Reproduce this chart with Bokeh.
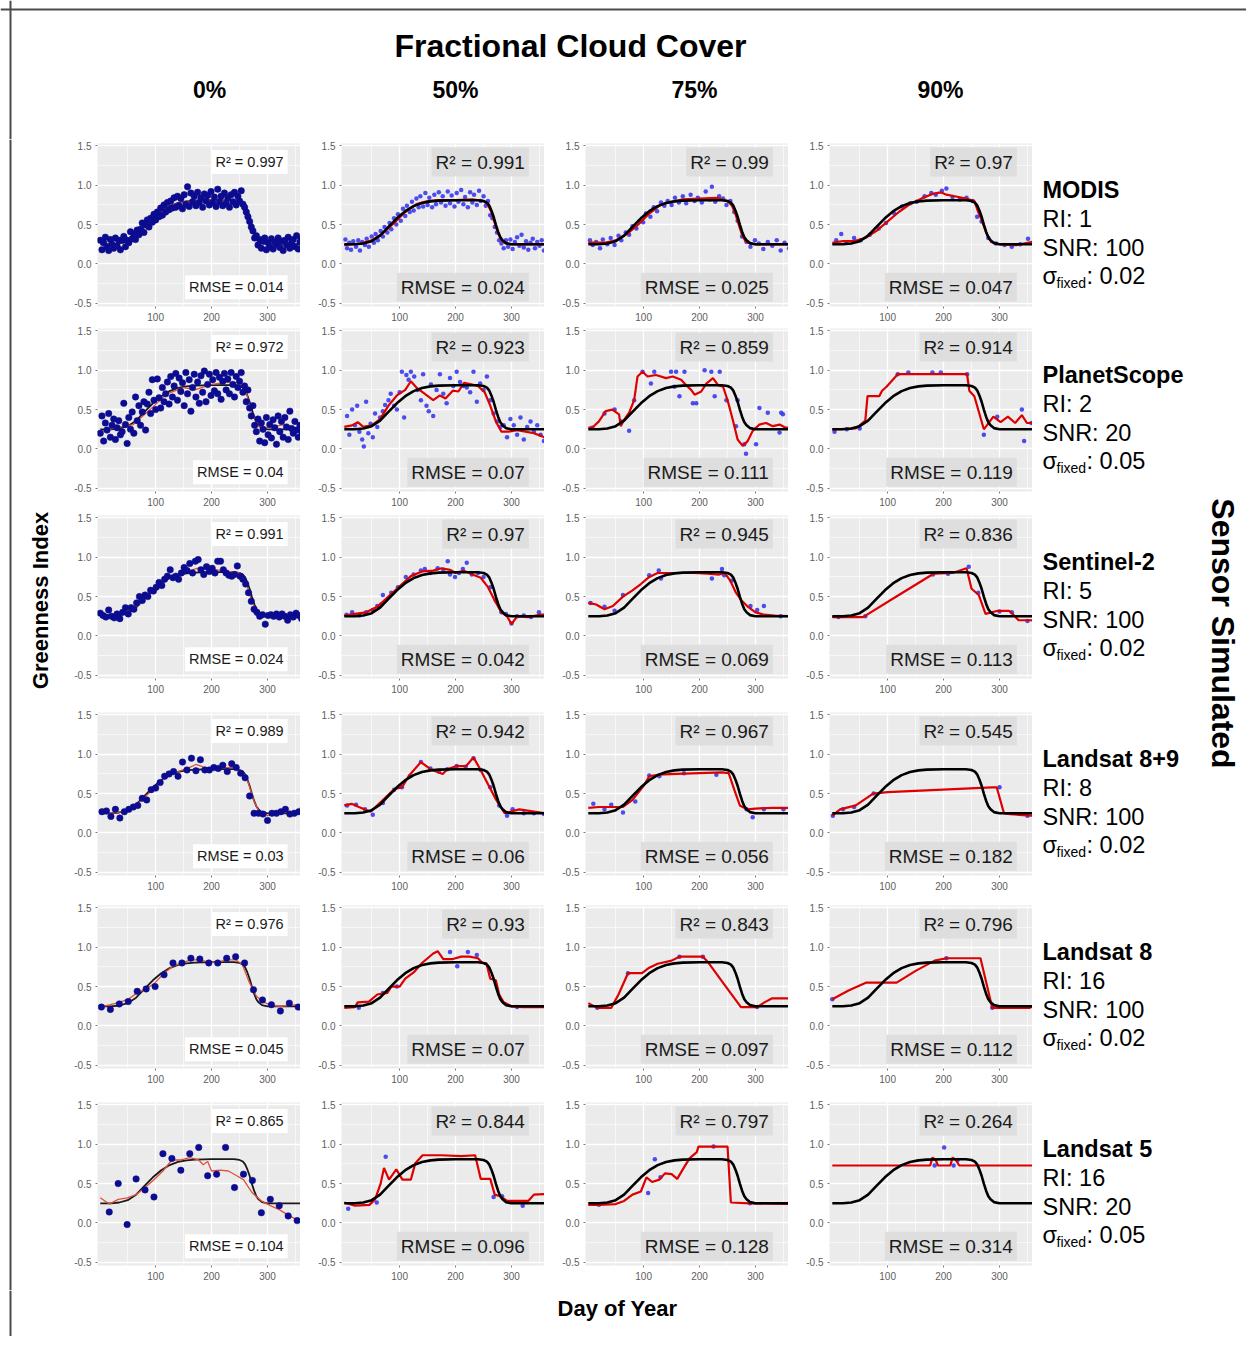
from bokeh.plotting import figure
from bokeh.layouts import row, column
from bokeh.models import Range1d, FixedTicker, NumeralTickFormatter, Label, Span
from bokeh.core.properties import value
from bokeh.embed import file_html
from bokeh.resources import INLINE
import math

FONT = "Liberation Sans"

# ---------------- text data ----------------
title_text = "Fractional Cloud Cover"
col_headers = ["0%", "50%", "75%", "90%"]
sensor_names = ["MODIS", "PlanetScope", "Sentinel-2", "Landsat 8+9", "Landsat 8", "Landsat 5"]
sensor_ri = ["1", "2", "5", "8", "16", "16"]
sensor_snr = ["100", "20", "100", "100", "100", "20"]
sensor_sigma = ["0.02", "0.05", "0.02", "0.02", "0.02", "0.05"]
r2_values = [["0.997", "0.991", "0.99", "0.97"],
             ["0.972", "0.923", "0.859", "0.914"],
             ["0.991", "0.97", "0.945", "0.836"],
             ["0.989", "0.942", "0.967", "0.545"],
             ["0.976", "0.93", "0.843", "0.796"],
             ["0.865", "0.844", "0.797", "0.264"]]
rmse_values = [["0.014", "0.024", "0.025", "0.047"],
               ["0.04", "0.07", "0.111", "0.119"],
               ["0.024", "0.042", "0.069", "0.113"],
               ["0.03", "0.06", "0.056", "0.182"],
               ["0.045", "0.07", "0.097", "0.112"],
               ["0.104", "0.096", "0.128", "0.314"]]
x_ticks = [100, 200, 300]
x_minor = [50, 150, 250, 350]
y_ticks = [-0.5, 0.0, 0.5, 1.0, 1.5]
y_minor = [-0.25, 0.25, 0.75, 1.25]

# ---------------- true greenness curve (black) ----------------
truth_doy = [1, 20, 35, 50, 65, 80, 95, 110, 125, 140, 155, 170, 200, 240, 250, 256, 260, 264, 268,
             272, 276, 280, 284, 290, 300, 330, 365]
truth_gi = [0.25, 0.25, 0.26, 0.29, 0.36, 0.47, 0.58, 0.67, 0.735, 0.775, 0.795, 0.805, 0.81, 0.81,
            0.80, 0.78, 0.745, 0.68, 0.60, 0.50, 0.41, 0.34, 0.30, 0.265, 0.25, 0.25, 0.25]

# ---------------- observations and fits ----------------
doy_every3 = [1, 4, 7, 10, 13, 16, 19, 22, 25, 28, 31, 34, 37, 40, 43, 46, 49, 52, 55, 58, 61, 64, 67,
              70, 73, 76, 79, 82, 85, 88, 91, 94, 97, 100, 103, 106, 109, 112, 115, 118, 121, 124, 127,
              130, 133, 136, 139, 142, 145, 148, 151, 154, 157, 160, 163, 166, 169, 172, 175, 178, 181,
              184, 187, 190, 193, 196, 199, 202, 205, 208, 211, 214, 217, 220, 223, 226, 229, 232, 235,
              238, 241, 244, 247, 250, 253, 256, 259, 262, 265, 268, 271, 274, 277, 280, 283, 286, 289,
              292, 295, 298, 301, 304, 307, 310, 313, 316, 319, 322, 325, 328, 331, 334, 337, 340, 343,
              346, 349, 352, 355, 358, 361, 364]

# MODIS
m0_gi = [0.30, 0.18, 0.27, 0.34, 0.22, 0.17, 0.31, 0.25, 0.20, 0.33,
         0.23, 0.30, 0.18, 0.30, 0.35, 0.22, 0.30, 0.27, 0.41, 0.32,
         0.38, 0.31, 0.43, 0.37, 0.44, 0.52, 0.40, 0.50, 0.56, 0.47,
         0.58, 0.53, 0.63, 0.56, 0.66, 0.60, 0.71, 0.62, 0.75, 0.66,
         0.78, 0.69, 0.80, 0.71, 0.84, 0.72, 0.86, 0.74, 0.83, 0.70,
         0.88, 0.76, 0.98, 0.73, 0.90, 0.79, 0.86, 0.74, 0.91, 0.78,
         0.84, 0.72, 0.89, 0.80, 0.87, 0.75, 0.92, 0.78, 0.85, 0.73,
         0.95, 0.79, 0.86, 0.74, 0.90, 0.77, 0.84, 0.72, 0.88, 0.79,
         0.91, 0.75, 0.86, 0.80, 0.93, 0.76, 0.72, 0.66, 0.60, 0.54,
         0.47, 0.42, 0.33, 0.36, 0.24, 0.31, 0.20, 0.29, 0.33, 0.18,
         0.27, 0.22, 0.32, 0.19, 0.28, 0.25, 0.33, 0.21, 0.29, 0.17,
         0.30, 0.24, 0.34, 0.20, 0.27, 0.31, 0.22, 0.36, 0.19, 0.28,
         0.32, 0.23]
m0_fit_doy = [1, 30, 50, 70, 90, 110, 130, 150, 170, 200, 230, 250, 258, 264, 270, 276, 282, 290, 300, 330, 365]
m0_fit_gi = [0.25, 0.26, 0.29, 0.38, 0.52, 0.66, 0.75, 0.79, 0.81, 0.81, 0.81, 0.80, 0.76, 0.67, 0.53, 0.40,
             0.30, 0.26, 0.25, 0.25, 0.26]

m50_doy = [3, 6, 10, 13, 17, 22, 26, 29, 33, 38, 41, 45, 50, 54, 57, 61, 66, 70, 73, 78, 82, 85, 90, 94, 97,
           102, 106, 110, 113, 118, 122, 125, 130, 134, 137, 142, 146, 150, 153, 158, 162, 165, 170, 174,
           177, 182, 186, 190, 193, 198, 202, 205, 210, 214, 217, 222, 226, 230, 233, 238, 242, 245, 250,
           254, 258, 262, 266, 270, 274, 278, 282, 286, 290, 294, 298, 302, 306, 310, 314, 318, 322, 326,
           330, 334, 338, 342, 346, 350, 354, 358, 362]
m50_gi = [0.31, 0.20, 0.27, 0.18, 0.29, 0.22, 0.30, 0.17, 0.28, 0.24,
          0.32, 0.22, 0.35, 0.27, 0.38, 0.30, 0.42, 0.35, 0.47, 0.40,
          0.52, 0.44, 0.58, 0.50, 0.63, 0.55, 0.70, 0.61, 0.74, 0.66,
          0.79, 0.68, 0.83, 0.72, 0.86, 0.73, 0.90, 0.75, 0.84, 0.72,
          0.88, 0.76, 0.91, 0.78, 0.86, 0.74, 0.92, 0.77, 0.87, 0.73,
          0.90, 0.79, 0.94, 0.76, 0.85, 0.72, 0.91, 0.78, 0.88, 0.75,
          0.93, 0.80, 0.86, 0.74, 0.80, 0.62, 0.58, 0.47, 0.40, 0.30,
          0.26, 0.20, 0.30, 0.22, 0.31, 0.19, 0.28, 0.34, 0.23, 0.37,
          0.21, 0.29, 0.18, 0.27, 0.32, 0.20, 0.28, 0.23, 0.30, 0.17,
          0.26]
m50_fit_doy = [1, 30, 50, 70, 90, 110, 130, 150, 170, 200, 230, 250, 258, 264, 270, 276, 282, 290, 300, 330, 365]
m50_fit_gi = [0.24, 0.26, 0.30, 0.39, 0.52, 0.66, 0.76, 0.80, 0.81, 0.81, 0.82, 0.80, 0.75, 0.66, 0.52, 0.39,
              0.30, 0.26, 0.25, 0.25, 0.25]

m75_doy = [4, 9, 15, 22, 27, 35, 41, 48, 55, 60, 68, 74, 80, 87, 93, 99, 104, 112, 118, 124, 131, 137, 143,
           150, 156, 163, 170, 176, 184, 191, 197, 204, 211, 218, 222, 228, 235, 242, 248, 255, 262, 268,
           276, 284, 291, 299, 306, 314, 322, 330, 338, 345, 352, 360]
m75_gi = [0.30, 0.24, 0.28, 0.20, 0.31, 0.25, 0.33, 0.24, 0.36, 0.30,
          0.40, 0.37, 0.48, 0.45, 0.55, 0.53, 0.64, 0.60, 0.72, 0.67,
          0.78, 0.74, 0.80, 0.75, 0.84, 0.78, 0.86, 0.77, 0.88, 0.80,
          0.84, 0.78, 0.92, 0.82, 0.98, 0.79, 0.86, 0.83, 0.75, 0.80,
          0.66, 0.55, 0.35, 0.28, 0.22, 0.30, 0.26, 0.19, 0.28, 0.23,
          0.30, 0.17, 0.27, 0.20]
m75_fit_doy = [1, 30, 50, 70, 90, 110, 130, 150, 170, 200, 230, 250, 258, 264, 270, 276, 282, 290, 300, 330, 365]
m75_fit_gi = [0.27, 0.27, 0.30, 0.38, 0.50, 0.64, 0.75, 0.79, 0.82, 0.83, 0.84, 0.80, 0.74, 0.64, 0.50, 0.37,
              0.29, 0.26, 0.25, 0.25, 0.25]

m90_doy = [8, 17, 26, 40, 52, 68, 84, 97, 112, 126, 141, 152, 166, 178, 186, 197, 205, 216, 229, 241, 252,
           260, 268, 280, 294, 309, 322, 337, 351, 360]
m90_gi = [0.30, 0.38, 0.27, 0.33, 0.30, 0.37, 0.45, 0.52, 0.64, 0.73, 0.77, 0.79, 0.86, 0.90, 0.88, 0.93,
          0.96, 0.85, 0.82, 0.84, 0.80, 0.60, 0.54, 0.33, 0.26, 0.24, 0.22, 0.25, 0.32, 0.27]
m90_fit_doy = [1, 20, 40, 60, 80, 100, 120, 140, 160, 180, 195, 205, 220, 240, 255, 262, 268, 276, 285, 300,
               330, 350, 365]
m90_fit_gi = [0.27, 0.29, 0.29, 0.33, 0.42, 0.54, 0.66, 0.76, 0.83, 0.89, 0.91, 0.88, 0.86, 0.83, 0.80, 0.66,
              0.56, 0.40, 0.28, 0.25, 0.24, 0.27, 0.29]

# PlanetScope
p0_gi = [0.20, 0.42, 0.10, 0.33, 0.24, 0.45, 0.15, 0.30, 0.38, 0.12,
         0.27, 0.36, 0.18, 0.22, 0.58, 0.31, 0.07, 0.40, 0.25, 0.47,
         0.20, 0.66, 0.36, 0.55, 0.30, 0.47, 0.60, 0.24, 0.57, 0.72,
         0.45, 0.88, 0.62, 0.50, 0.89, 0.65, 0.52, 0.78, 0.60, 0.70,
         0.85, 0.57, 0.92, 0.66, 0.80, 0.96, 0.62, 0.90, 0.73, 0.84,
         0.55, 0.97, 0.70, 0.88, 0.48, 0.78, 0.95, 0.66, 0.85, 0.58,
         0.93, 0.72, 0.99, 0.60, 0.82, 0.95, 0.68, 0.88, 0.74, 0.97,
         0.70, 0.91, 0.63, 0.86, 0.96, 0.75, 0.89, 0.70, 0.97, 0.82,
         0.66, 0.92, 0.78, 0.86, 0.97, 0.72, 0.80, 0.60, 0.75, 0.52,
         0.42, 0.55, 0.30, 0.22, 0.38, 0.10, 0.33, 0.25, 0.08, 0.40,
         0.18, 0.31, 0.14, 0.37, 0.27, 0.06, 0.42, 0.22, 0.35, 0.15,
         0.40, 0.28, 0.12, 0.48, 0.26, 0.20, 0.35, 0.24, 0.15, 0.30,
         0.22, -0.01]
p0_fit_doy = [1, 30, 60, 90, 120, 150, 170, 200, 230, 250, 262, 272, 285, 300, 330, 350, 365]
p0_fit_gi = [0.22, 0.27, 0.31, 0.50, 0.70, 0.78, 0.75, 0.82, 0.85, 0.84, 0.72, 0.45, 0.28, 0.27, 0.31, 0.27, 0.20]

p50_doy = [6, 10, 15, 20, 24, 28, 33, 36, 40, 44, 48, 52, 56, 60, 65, 70, 74, 80, 84, 90, 95, 100, 104, 108,
           112, 116, 120, 126, 132, 138, 142, 148, 152, 156, 160, 166, 172, 178, 184, 190, 196, 202, 208,
           214, 220, 226, 232, 238, 244, 250, 256, 262, 268, 274, 280, 286, 292, 298, 304, 310, 316, 322,
           328, 334, 340, 346, 352, 358, 363]
p50_gi = [0.42, 0.18, 0.50, 0.30, 0.55, 0.22, 0.12, 0.03, 0.60, 0.20,
          0.32, 0.15, 0.45, 0.28, 0.40, 0.48, 0.56, 0.62, 0.70, 0.55,
          0.50, 0.72, 0.98, 0.40, 0.94, 0.88, 0.98, 0.92, 0.75, 0.62,
          0.95, 0.55, 0.48, 0.82, 0.42, 0.75, 0.95, 0.70, 0.58, 0.90,
          0.80, 0.98, 0.85, 0.80, 0.78, 0.72, 0.98, 0.60, 0.83, 0.75,
          0.92, 0.62, 0.45, 0.35, 0.28, 0.30, 0.15, 0.38, 0.30, 0.18,
          0.40, 0.12, 0.28, 0.35, 0.22, 0.30, 0.18, 0.10, 0.20]
p50_fit_doy = [1, 15, 25, 35, 50, 65, 80, 95, 110, 120, 130, 145, 160, 172, 182, 195, 205, 215, 228, 240,
               252, 262, 272, 282, 295, 310, 325, 340, 355, 365]
p50_fit_gi = [0.28, 0.30, 0.34, 0.28, 0.30, 0.38, 0.55, 0.68, 0.75, 0.86, 0.78, 0.70, 0.62, 0.68, 0.64, 0.74,
              0.73, 0.84, 0.82, 0.80, 0.72, 0.55, 0.35, 0.22, 0.22, 0.24, 0.22, 0.20, 0.16, 0.12]

p75_doy = [8, 30, 48, 60, 74, 83, 98, 113, 119, 149, 155, 158, 164, 173, 188, 194, 209, 221, 227, 236, 248,
           265, 268, 280, 283, 301, 307, 322, 343, 346, 349]
p75_gi = [0.27, 0.45, 0.50, 0.35, 0.23, 0.62, 0.98, 0.83, 0.98, 0.98, 0.79, 0.98, 0.67, 0.98, 0.58, 0.58,
          1.00, 0.98, 0.67, 0.98, 0.62, 0.29, 0.62, 0.06, -0.06, 0.06, 0.52, 0.46, 0.21, 0.46, 0.44]
p75_fit_doy = [1, 8, 20, 32, 44, 56, 59, 65, 74, 83, 89, 98, 107, 122, 140, 152, 167, 176, 185, 191, 203, 212,
               224, 233, 242, 250, 259, 268, 277, 286, 295, 307, 319, 331, 343, 354, 365]
p75_fit_gi = [0.27, 0.27, 0.35, 0.48, 0.50, 0.44, 0.29, 0.37, 0.46, 0.62, 0.92, 0.98, 0.92, 0.94, 0.90, 0.92,
              0.88, 0.81, 0.75, 0.69, 0.73, 0.83, 0.90, 0.81, 0.79, 0.62, 0.38, 0.12, 0.04, 0.10, 0.23, 0.31,
              0.33, 0.29, 0.31, 0.27, 0.27]

p90_doy = [5, 27, 50, 118, 137, 180, 195, 242, 272, 296, 340, 344, 357]
p90_gi = [0.22, 0.25, 0.26, 0.95, 0.97, 0.97, 0.97, 0.95, 0.18, 0.41, 0.50, 0.10, 0.33]
p90_fit_doy = [1, 43, 50, 60, 64, 85, 90, 98, 118, 237, 242, 246, 255, 272, 289, 302, 315, 328, 340, 349, 365]
p90_fit_gi = [0.25, 0.26, 0.30, 0.36, 0.67, 0.67, 0.74, 0.79, 0.95, 0.95, 0.95, 0.74, 0.67, 0.25, 0.41, 0.34,
              0.41, 0.33, 0.43, 0.33, 0.33]

# Sentinel-2
s0_doy = [1, 6, 11, 16, 21, 26, 31, 36, 41, 46, 51, 56, 61, 66, 71, 76, 81, 86, 91, 96, 101, 106, 111, 116,
          121, 126, 131, 136, 141, 146, 151, 156, 161, 166, 171, 176, 181, 186, 191, 196, 201, 206, 211,
          216, 221, 226, 231, 236, 241, 246, 251, 256, 261, 266, 271, 276, 281, 286, 291, 296, 301, 306,
          311, 316, 321, 326, 331, 336, 341, 346, 351, 356, 361]
s0_gi = [0.29, 0.26, 0.24, 0.33, 0.25, 0.23, 0.28, 0.22, 0.30, 0.36,
         0.28, 0.36, 0.34, 0.42, 0.50, 0.45, 0.52, 0.50, 0.58, 0.57,
         0.62, 0.68, 0.64, 0.72, 0.76, 0.84, 0.74, 0.76, 0.72, 0.80,
         0.87, 0.83, 0.92, 0.80, 0.95, 0.97, 0.84, 0.78, 0.88, 0.82,
         0.86, 0.80, 0.95, 0.95, 0.84, 0.80, 0.77, 0.76, 0.78, 0.89,
         0.76, 0.72, 0.66, 0.55, 0.44, 0.34, 0.30, 0.25, 0.27, 0.15,
         0.26, 0.27, 0.25, 0.28, 0.24, 0.28, 0.25, 0.20, 0.27, 0.24,
         0.29, 0.26, 0.22]
s0_fit_doy = [1, 30, 60, 90, 120, 150, 175, 200, 230, 250, 260, 270, 280, 295, 330, 365]
s0_fit_gi = [0.27, 0.27, 0.34, 0.53, 0.73, 0.81, 0.86, 0.85, 0.82, 0.80, 0.72, 0.48, 0.32, 0.25, 0.26, 0.25]

s50_doy = [5, 15, 28, 40, 52, 60, 67, 70, 85, 97, 111, 125, 138, 145, 155, 168, 178, 186, 190, 199, 206, 213,
           220, 229, 240, 250, 262, 272, 282, 290, 300, 310, 322, 335, 349, 360]
s50_gi = [0.27, 0.30, 0.26, 0.30, 0.33, 0.38, 0.40, 0.52, 0.55, 0.62, 0.75, 0.78, 0.83, 0.85, 0.80, 0.86,
          0.84, 0.95, 0.78, 0.75, 0.80, 0.85, 0.93, 0.78, 0.80, 0.75, 0.62, 0.45, 0.30, 0.28, 0.16, 0.25,
          0.26, 0.24, 0.30, 0.26]
s50_fit_doy = [1, 20, 40, 60, 80, 100, 120, 140, 160, 175, 190, 200, 215, 230, 245, 258, 270, 282, 292, 300,
               310, 330, 350, 365]
s50_fit_gi = [0.26, 0.28, 0.30, 0.37, 0.50, 0.63, 0.76, 0.82, 0.83, 0.86, 0.84, 0.80, 0.83, 0.78, 0.74, 0.62,
              0.45, 0.30, 0.25, 0.15, 0.25, 0.24, 0.27, 0.27]

s75_doy = [5, 30, 48, 63, 110, 127, 131, 222, 240, 244, 257, 291, 303, 315, 345]
s75_gi = [0.42, 0.37, 0.32, 0.52, 0.77, 0.83, 0.73, 0.73, 0.85, 0.77, 0.70, 0.38, 0.33, 0.38, 0.25]
s75_fit_doy = [1, 15, 30, 45, 63, 80, 95, 110, 125, 140, 160, 190, 215, 235, 245, 255, 265, 275, 285, 300,
               315, 335, 365]
s75_fit_gi = [0.42, 0.40, 0.34, 0.38, 0.50, 0.58, 0.66, 0.75, 0.80, 0.80, 0.80, 0.80, 0.79, 0.78, 0.80, 0.70,
              0.55, 0.45, 0.38, 0.30, 0.27, 0.26, 0.25]

s90_doy = [12, 60, 181, 208, 245, 262, 300, 322, 350]
s90_gi = [0.24, 0.25, 0.78, 0.79, 0.88, 0.55, 0.31, 0.30, 0.19]
s90_fit_doy = [1, 56, 120, 182, 216, 241, 250, 263, 275, 297, 317, 325, 334, 355, 365]
s90_fit_gi = [0.24, 0.24, 0.52, 0.79, 0.80, 0.86, 0.60, 0.52, 0.28, 0.32, 0.32, 0.27, 0.20, 0.20, 0.19]

# Landsat 8+9
l89_0_doy = [4, 12, 20, 28, 36, 44, 52, 60, 68, 76, 84, 92, 100, 108, 116, 124, 132, 140, 148, 156, 164, 172,
             180, 188, 196, 204, 212, 220, 228, 236, 244, 252, 260, 268, 276, 284, 292, 300, 308, 316, 324,
             332, 340, 348, 356, 364]
l89_0_gi = [0.27, 0.28, 0.21, 0.30, 0.19, 0.27, 0.30, 0.33, 0.35, 0.44, 0.42, 0.55, 0.57, 0.64, 0.72, 0.75,
            0.78, 0.72, 0.90, 0.80, 0.95, 0.79, 0.93, 0.80, 0.80, 0.83, 0.82, 0.86, 0.78, 0.88, 0.83, 0.76,
            0.70, 0.47, 0.25, 0.25, 0.24, 0.16, 0.25, 0.25, 0.27, 0.30, 0.24, 0.25, 0.27, 0.32]
l89_0_fit_doy = [1, 20, 40, 60, 80, 100, 120, 140, 160, 172, 185, 200, 220, 240, 255, 265, 275, 285, 300, 330, 365]
l89_0_fit_gi = [0.26, 0.25, 0.27, 0.32, 0.45, 0.59, 0.72, 0.78, 0.83, 0.87, 0.84, 0.81, 0.83, 0.83, 0.78, 0.65,
                0.42, 0.27, 0.22, 0.26, 0.29]

l89_50_doy = [6, 22, 38, 52, 70, 90, 104, 118, 138, 155, 170, 185, 202, 218, 232, 245, 262, 278, 292, 302, 322,
              340, 358]
l89_50_gi = [0.35, 0.36, 0.30, 0.23, 0.38, 0.55, 0.58, 0.72, 0.90, 0.82, 0.78, 0.81, 0.85, 0.84, 0.95, 0.80,
             0.58, 0.35, 0.22, 0.30, 0.25, 0.25, 0.24]
l89_50_fit_doy = [1, 14, 27, 48, 91, 104, 117, 138, 155, 177, 185, 202, 219, 232, 244, 258, 271, 288, 314, 361, 365]
l89_50_fit_gi = [0.35, 0.37, 0.33, 0.27, 0.56, 0.58, 0.73, 0.90, 0.81, 0.75, 0.81, 0.85, 0.85, 0.96, 0.81, 0.62,
                 0.44, 0.25, 0.30, 0.25, 0.25]

l89_75_doy = [10, 30, 42, 63, 85, 110, 128, 172, 230, 284, 295, 315, 350]
l89_75_gi = [0.37, 0.30, 0.36, 0.26, 0.40, 0.73, 0.72, 0.76, 0.74, 0.30, 0.20, 0.30, 0.30]
l89_75_fit_doy = [1, 20, 45, 63, 80, 100, 110, 125, 160, 200, 240, 252, 262, 272, 285, 300, 330, 365]
l89_75_fit_gi = [0.32, 0.33, 0.33, 0.33, 0.42, 0.60, 0.72, 0.74, 0.75, 0.76, 0.77, 0.76, 0.55, 0.35, 0.30, 0.31,
                 0.32, 0.32]

l89_90_doy = [2, 20, 40, 75, 300, 350]
l89_90_gi = [0.22, 0.30, 0.33, 0.50, 0.58, 0.22]
l89_90_fit_doy = [1, 15, 43, 74, 100, 287, 295, 308, 319, 355, 365]
l89_90_fit_gi = [0.22, 0.30, 0.35, 0.50, 0.52, 0.58, 0.58, 0.25, 0.24, 0.22, 0.22]

# Landsat 8
l8_0_doy = [3, 19, 35, 51, 67, 83, 99, 115, 131, 147, 163, 179, 195, 211, 227, 243, 259, 275, 291, 307, 323,
            339, 355]
l8_0_gi = [0.24, 0.21, 0.28, 0.31, 0.44, 0.47, 0.50, 0.65, 0.80, 0.80, 0.86, 0.85, 0.80, 0.80, 0.86, 0.88,
           0.80, 0.46, 0.33, 0.27, 0.19, 0.29, 0.24]
l8_0_fit_doy = [1, 19, 35, 51, 67, 83, 99, 115, 131, 147, 163, 179, 195, 211, 227, 243, 255, 267, 280, 291, 307,
                323, 339, 355, 365]
l8_0_fit_gi = [0.24, 0.27, 0.30, 0.34, 0.42, 0.47, 0.55, 0.67, 0.76, 0.80, 0.84, 0.84, 0.81, 0.81, 0.84, 0.84,
               0.78, 0.56, 0.38, 0.31, 0.26, 0.25, 0.26, 0.27, 0.27]

l8_50_doy = [27, 70, 95, 190, 203, 222, 238, 310]
l8_50_gi = [0.23, 0.42, 0.50, 0.94, 0.76, 0.94, 0.90, 0.24]
l8_50_fit_doy = [1, 20, 25, 45, 60, 78, 85, 100, 110, 125, 140, 160, 168, 178, 195, 210, 225, 240, 248, 255, 262,
                 272, 278, 286, 300, 320, 365]
l8_50_fit_gi = [0.23, 0.24, 0.30, 0.31, 0.40, 0.42, 0.50, 0.50, 0.60, 0.68, 0.80, 0.92, 0.95, 0.85, 0.85, 0.88,
                0.88, 0.86, 0.80, 0.80, 0.60, 0.58, 0.40, 0.30, 0.25, 0.24, 0.24]

l8_75_doy = [17, 72, 164, 206, 303]
l8_75_gi = [0.23, 0.67, 0.88, 0.88, 0.24]
l8_75_fit_doy = [1, 17, 42, 55, 72, 97, 110, 125, 150, 164, 206, 214, 245, 274, 303, 316, 329, 365]
l8_75_fit_gi = [0.29, 0.23, 0.23, 0.40, 0.67, 0.67, 0.74, 0.79, 0.83, 0.88, 0.88, 0.82, 0.52, 0.24, 0.24, 0.30,
                0.35, 0.35]

l8_90_doy = [1, 205, 287]
l8_90_gi = [0.34, 0.86, 0.23]
l8_90_fit_doy = [1, 30, 61, 78, 116, 150, 184, 205, 257, 266, 287, 354, 365]
l8_90_fit_gi = [0.34, 0.45, 0.55, 0.55, 0.55, 0.70, 0.83, 0.86, 0.86, 0.86, 0.23, 0.23, 0.27]

# Landsat 5
l5_0_doy = [17, 33, 49, 65, 81, 97, 113, 129, 145, 161, 177, 193, 209, 225, 241, 257, 273, 289, 305, 321, 337, 353]
l5_0_gi = [0.14, 0.50, -0.02, 0.56, 0.42, 0.33, 0.88, 0.82, 0.67, 0.88, 0.96, 0.60, 0.62, 0.96, 0.45, 0.62,
           0.54, 0.13, 0.30, 0.22, 0.09, 0.03]
l5_0_fit_doy = [1, 17, 33, 49, 65, 81, 97, 113, 129, 145, 161, 177, 185, 193, 200, 215, 230, 245, 257, 273, 289,
                305, 321, 337, 353, 365]
l5_0_fit_gi = [0.32, 0.24, 0.30, 0.32, 0.36, 0.45, 0.55, 0.66, 0.80, 0.80, 0.83, 0.80, 0.74, 0.78, 0.66, 0.67,
               0.66, 0.60, 0.55, 0.38, 0.28, 0.22, 0.17, 0.10, 0.04, 0.06]

l5_50_doy = [8, 59, 75, 268, 283, 320]
l5_50_gi = [0.18, 0.26, 0.84, 0.33, 0.34, 0.22]
l5_50_fit_doy = [1, 20, 46, 56, 66, 72, 81, 94, 105, 120, 128, 141, 175, 210, 235, 245, 262, 270, 280, 292, 330,
                 340, 365]
l5_50_fit_gi = [0.26, 0.22, 0.23, 0.30, 0.50, 0.70, 0.55, 0.68, 0.55, 0.55, 0.76, 0.86, 0.86, 0.85, 0.86, 0.56,
                0.56, 0.36, 0.34, 0.28, 0.28, 0.36, 0.37]

l5_75_doy = [20, 108, 120, 130, 225, 290]
l5_75_gi = [0.23, 0.38, 0.81, 0.58, 0.97, 0.25]
l5_75_fit_doy = [1, 20, 50, 65, 80, 95, 105, 115, 128, 138, 150, 160, 170, 182, 195, 198, 225, 250, 256, 290, 365]
l5_75_fit_gi = [0.23, 0.23, 0.24, 0.28, 0.36, 0.40, 0.58, 0.52, 0.55, 0.63, 0.62, 0.56, 0.68, 0.82, 0.90, 0.97,
                0.97, 0.97, 0.26, 0.25, 0.24]

l5_90_doy = [184, 201, 218, 225]
l5_90_gi = [0.73, 0.96, 0.73, 0.80]
l5_90_fit_doy = [1, 150, 176, 180, 186, 190, 212, 216, 222, 228, 365]
l5_90_fit_gi = [0.73, 0.73, 0.73, 0.83, 0.80, 0.73, 0.73, 0.83, 0.80, 0.73, 0.73]

panel_table = [
    [(doy_every3, m0_gi, m0_fit_doy, m0_fit_gi), (m50_doy, m50_gi, m50_fit_doy, m50_fit_gi),
     (m75_doy, m75_gi, m75_fit_doy, m75_fit_gi), (m90_doy, m90_gi, m90_fit_doy, m90_fit_gi)],
    [(doy_every3, p0_gi, p0_fit_doy, p0_fit_gi), (p50_doy, p50_gi, p50_fit_doy, p50_fit_gi),
     (p75_doy, p75_gi, p75_fit_doy, p75_fit_gi), (p90_doy, p90_gi, p90_fit_doy, p90_fit_gi)],
    [(s0_doy, s0_gi, s0_fit_doy, s0_fit_gi), (s50_doy, s50_gi, s50_fit_doy, s50_fit_gi),
     (s75_doy, s75_gi, s75_fit_doy, s75_fit_gi), (s90_doy, s90_gi, s90_fit_doy, s90_fit_gi)],
    [(l89_0_doy, l89_0_gi, l89_0_fit_doy, l89_0_fit_gi), (l89_50_doy, l89_50_gi, l89_50_fit_doy, l89_50_fit_gi),
     (l89_75_doy, l89_75_gi, l89_75_fit_doy, l89_75_fit_gi), (l89_90_doy, l89_90_gi, l89_90_fit_doy, l89_90_fit_gi)],
    [(l8_0_doy, l8_0_gi, l8_0_fit_doy, l8_0_fit_gi), (l8_50_doy, l8_50_gi, l8_50_fit_doy, l8_50_fit_gi),
     (l8_75_doy, l8_75_gi, l8_75_fit_doy, l8_75_fit_gi), (l8_90_doy, l8_90_gi, l8_90_fit_doy, l8_90_fit_gi)],
    [(l5_0_doy, l5_0_gi, l5_0_fit_doy, l5_0_fit_gi), (l5_50_doy, l5_50_gi, l5_50_fit_doy, l5_50_fit_gi),
     (l5_75_doy, l5_75_gi, l5_75_fit_doy, l5_75_fit_gi), (l5_90_doy, l5_90_gi, l5_90_fit_doy, l5_90_fit_gi)],
]

# ---------------- layout constants ----------------
ROW_H = [185, 187, 197, 193, 197, 192]
PAD_TOP = 4
FRAME_H = 163
PANEL_W = 244
PAD_LEFT = 41
LEFT_W = 56
RIGHT_W = 214
TOTAL_W = LEFT_W + 4 * PANEL_W + RIGHT_W
HEADER_H = 139
BOTTOM_H = 46
MID_H = sum(ROW_H)
BORDER = "#4a4a4a"


def make_panel(r, c):
    px, py, fx, fy = panel_table[r][c]
    h = ROW_H[r]
    p = figure(width=PANEL_W, height=h, x_range=Range1d(-4, 359), y_range=Range1d(-0.54, 1.53),
               output_backend="svg", toolbar_location=None,
               min_border_left=PAD_LEFT, min_border_right=0, min_border_top=PAD_TOP,
               min_border_bottom=h - PAD_TOP - FRAME_H)
    p.background_fill_color = "#EBEBEB"
    p.border_fill_color = "white"
    p.outline_line_color = None
    p.xaxis.ticker = FixedTicker(ticks=x_ticks, minor_ticks=x_minor)
    p.yaxis.ticker = FixedTicker(ticks=y_ticks, minor_ticks=y_minor)
    p.yaxis.formatter = NumeralTickFormatter(format="0.0")
    for ax in p.axis:
        ax.axis_line_color = None
        ax.major_tick_line_color = "#7a7a7a"
        ax.major_tick_out = 2
        ax.major_tick_in = 0
        ax.minor_tick_line_color = None
        ax.major_label_text_font = FONT
        ax.major_label_text_font_size = "10px"
        ax.major_label_text_color = "#5e5e5e"
        ax.major_label_standoff = 2
    p.grid.grid_line_color = "white"
    p.grid.grid_line_width = 1.3
    p.grid.minor_grid_line_color = "white"
    p.grid.minor_grid_line_width = 0.6

    if c == 0:
        p.line(truth_doy, truth_gi, line_color="#1a1a1a", line_width=1.8)
        p.line(fx, fy, line_color="#e0503a", line_width=1.3)
        p.scatter(px, py, size=6.5, fill_color="#0c0c90", line_color="#0c0c90", line_width=0.5)
        fsize = "14.5px"
        box = "white"
        lx = 336
    else:
        p.scatter(px, py, size=4.5, fill_color="#3a3aee", line_color=None, fill_alpha=0.9)
        p.line(fx, fy, line_color="#dd0000", line_width=2.2)
        p.line(truth_doy, truth_gi, line_color="black", line_width=2.6)
        fsize = "19px"
        box = "#dedede"
        lx = 331
    p.add_layout(Label(x=lx, y=1.295, text="R\u00b2 = " + r2_values[r][c], text_align="right",
                       text_baseline="middle", text_font=FONT, text_font_size=fsize, text_color="#1a1a1a",
                       background_fill_color=box, padding=4))
    p.add_layout(Label(x=lx, y=-0.295, text="RMSE = " + rmse_values[r][c], text_align="right",
                       text_baseline="middle", text_font=FONT, text_font_size=fsize, text_color="#1a1a1a",
                       background_fill_color=box, padding=4))
    return p


def blank(w, h):
    p = figure(width=w, height=h, x_range=Range1d(0, w), y_range=Range1d(h, 0),
               output_backend="svg", toolbar_location=None, min_border=0,
               x_axis_location=None, y_axis_location=None)
    p.xgrid.visible = False
    p.ygrid.visible = False
    p.outline_line_color = None
    p.background_fill_color = "white"
    p.border_fill_color = "white"
    return p


# header
header = blank(TOTAL_W, HEADER_H)
header.add_layout(Span(location=9, dimension="width", line_color=BORDER, line_width=2))
header.add_layout(Span(location=10, dimension="height", line_color=BORDER, line_width=2))
header.text(x=[570], y=[45], text=[title_text], text_font=value(FONT), text_font_style="bold",
            text_font_size="32px", text_align="center", text_baseline="middle", text_color="black")
header.text(x=[209, 455, 694, 940], y=[89, 89, 89, 89], text=col_headers, text_font=value(FONT),
            text_font_style="bold", text_font_size="23px", text_align="center", text_baseline="middle",
            text_color="black")

# left label
left = blank(LEFT_W, MID_H)
left.add_layout(Span(location=10, dimension="height", line_color=BORDER, line_width=2))
left.text(x=[40], y=[461], text=["Greenness Index"], angle=math.pi / 2, text_font=value(FONT),
          text_font_style="bold", text_font_size="22px", text_align="center", text_baseline="middle",
          text_color="black")

# right labels
right = blank(RIGHT_W, MID_H)
tops = [sum(ROW_H[:r]) for r in range(6)]
for r in range(6):
    y0 = tops[r] + PAD_TOP + 46
    right.text(x=[10], y=[y0], text=[sensor_names[r]], text_font=value(FONT), text_font_style="bold",
               text_font_size="23.5px", text_baseline="middle", text_color="black")
    right.text(x=[10, 10], y=[y0 + 29, y0 + 58], text=["RI: " + sensor_ri[r], "SNR: " + sensor_snr[r]],
               text_font=value(FONT), text_font_size="23.5px", text_baseline="middle", text_color="black")
    right.text(x=[10], y=[y0 + 86], text=["\u03c3"], text_font=value(FONT), text_font_size="23.5px",
               text_baseline="middle", text_color="black")
    right.text(x=[24], y=[y0 + 93], text=["fixed"], text_font=value(FONT), text_font_size="14px",
               text_baseline="middle", text_color="black")
    right.text(x=[54], y=[y0 + 86], text=[": " + sensor_sigma[r]], text_font=value(FONT),
               text_font_size="23.5px", text_baseline="middle", text_color="black")
right.text(x=[190], y=[494], text=["Sensor Simulated"], angle=-math.pi / 2, text_font=value(FONT),
           text_font_style="bold", text_font_size="32px", text_align="center", text_baseline="middle",
           text_color="black")

# bottom label
bottom = blank(TOTAL_W, BOTTOM_H)
bottom.add_layout(Span(location=10, dimension="height", line_color=BORDER, line_width=2))
bottom.text(x=[617], y=[18], text=["Day of Year"], text_font=value(FONT), text_font_style="bold",
            text_font_size="22px", text_align="center", text_baseline="middle", text_color="black")

grid_rows = [row(*[make_panel(r, c) for c in range(4)]) for r in range(6)]
middle = row(left, column(*grid_rows), right)
layout = column(header, middle, bottom)

open("out.html", "w").write(file_html(layout, INLINE, title="Fractional Cloud Cover"))
